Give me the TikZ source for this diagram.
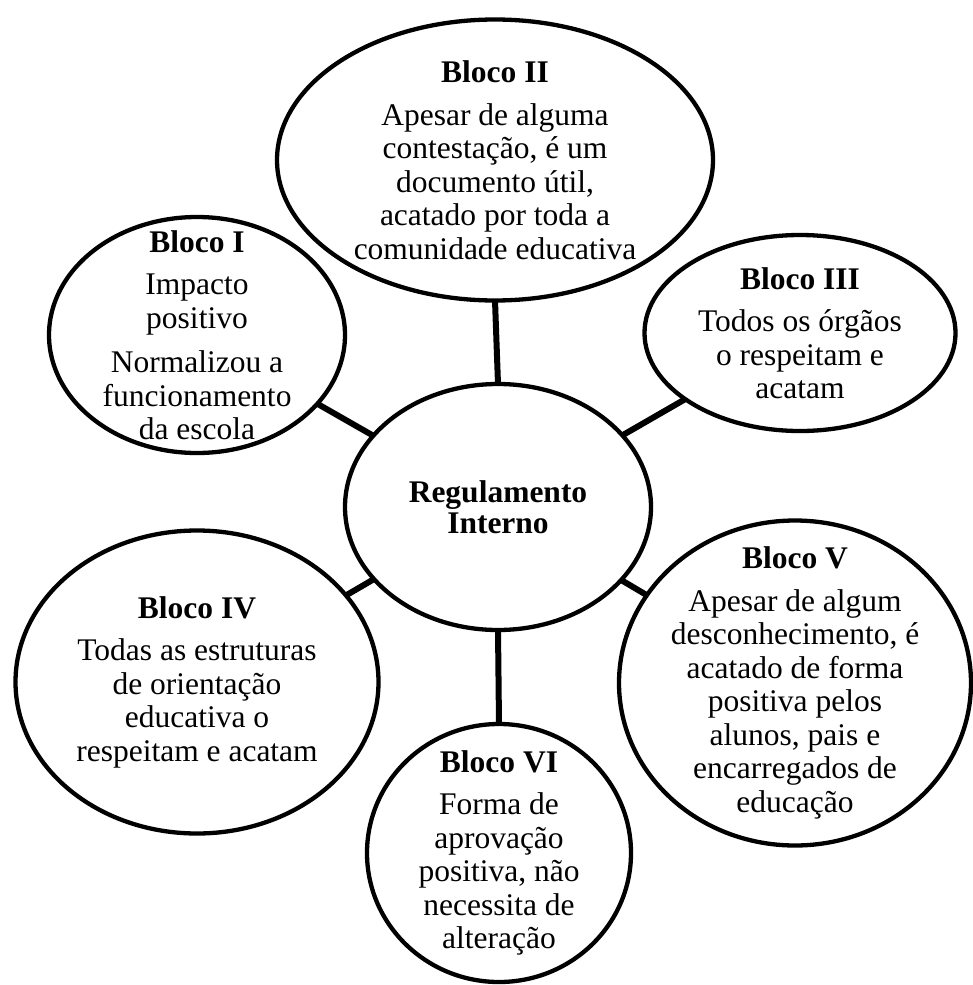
\documentclass[tikz,border=0pt]{standalone}
\usepackage{fontspec}
\setmainfont{Liberation Serif}
\usetikzlibrary{shapes.geometric}

\tikzset{
  blob/.style={ellipse, draw=black, line width=4.3pt, inner sep=0pt, outer sep=0pt, fill=white},
  blobtext/.style={align=center, inner sep=0pt, font=\fontsize{31.5}{33.5}\selectfont},
  link/.style={draw=black, line width=6pt},
}
\newcommand{\blocktitle}[1]{\textbf{#1}\\[9pt]}

\begin{document}
\begin{tikzpicture}[x=1pt,y=-1pt]
  \useasboundingbox (0,0) rectangle (973,985);
  \fill[white] (0,0) rectangle (973,985);

  % central ellipse and the six blocks around it
  \node[blob, minimum width=306pt, minimum height=246pt] (reg) at (498,507) {};
  \node[blob, minimum width=296pt, minimum height=236pt] (b1) at (197,335) {};
  \node[blob, minimum width=436pt, minimum height=281pt] (b2) at (495,160) {};
  \node[blob, minimum width=311pt, minimum height=196pt] (b3) at (800,333) {};
  \node[blob, minimum width=363pt, minimum height=303pt] (b4) at (197,682) {};
  \node[blob, minimum width=352pt, minimum height=325pt] (b5) at (795,683) {};
  \node[blob, minimum width=264pt, minimum height=258pt] (b6) at (499,853) {};

  % connectors from the centre to each block
  \draw[link] (b1) -- (reg);
  \draw[link] (b2.south) -- (reg.north);
  \draw[link] (b3) -- (reg);
  \draw[link] (b4) -- (reg);
  \draw[link] (b5) -- (reg);
  \draw[link] (reg.south) -- (b6.north);

  % texts
  \node[blobtext] (treg) at (reg.center) {\textbf{Regulamento}\\[-3pt]\textbf{Interno}};
  \node[blobtext] (t1) at (b1.center) {\blocktitle{Bloco I}Impacto\\positivo\\[11pt]Normalizou a\\funcionamento\\da escola};
  \node[blobtext] (t2) at (b2.center) {\blocktitle{Bloco II}Apesar de alguma\\contestação, é um\\documento útil,\\acatado por toda a\\comunidade educativa};
  \node[blobtext] (t3) at (b3.center) {\blocktitle{Bloco III}Todos os órgãos\\o respeitam e\\acatam};
  \node[blobtext] (t4) at (b4.center) {\blocktitle{Bloco IV}Todas as estruturas\\de orientação\\educativa o\\respeitam e acatam};
  \node[blobtext] (t5) at (b5.center) {\blocktitle{Bloco V}Apesar de algum\\desconhecimento, é\\acatado de forma\\positiva pelos\\alunos, pais e\\encarregados de\\educação};
  \node[blobtext] (t6) at (b6.center) {\blocktitle{Bloco VI}Forma de\\aprovação\\positiva, não\\necessita de\\alteração};
\end{tikzpicture}
\end{document}
